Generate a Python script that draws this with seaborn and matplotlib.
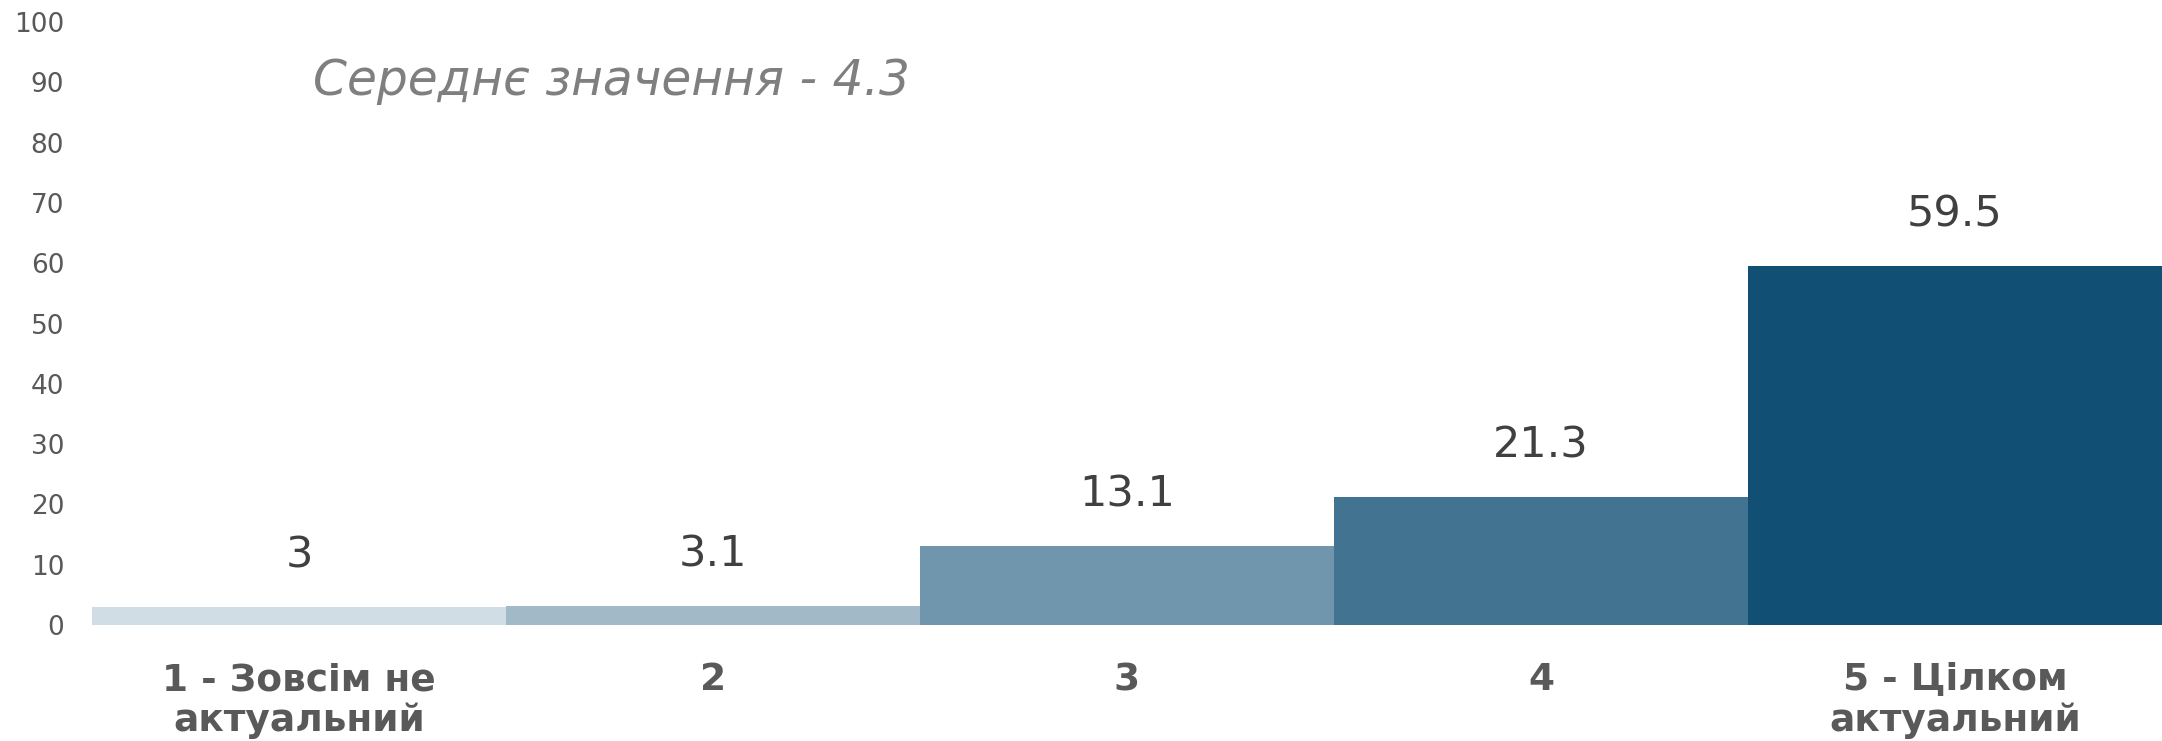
import matplotlib
matplotlib.use('Agg')
import matplotlib.pyplot as plt
import seaborn as sns
import pandas as pd

# data
categories = ['1 - Зовсім не\nактуальний', '2', '3', '4', '5 - Цілком\nактуальний']
values = [3, 3.1, 13.1, 21.3, 59.5]
bar_colors = ['#D0DDE4', '#A2B9C8', '#7096AE', '#427491', '#114F74']
mean_text = 'Середнє значення - 4.3'
y_ticks = list(range(0, 101, 10))

sns.set_style('white')
plt.rcParams['font.family'] = ['DejaVu Sans']

df = pd.DataFrame({'cat': categories, 'val': values})

fig = plt.figure(figsize=(21.62, 7.41), dpi=100)
ax = fig.add_axes([92 / 2162, 116 / 741, 2070 / 2162, 603 / 741])

sns.barplot(data=df, x='cat', y='val', hue='cat', palette=bar_colors,
            width=1.0, legend=False, saturation=1, linewidth=0, ax=ax)

ax.set_xlim(-0.5, len(categories) - 0.5)
ax.set_ylim(0, 100)
ax.set_yticks(y_ticks)
ax.set_xlabel('')
ax.set_ylabel('')
for s in ax.spines.values():
    s.set_visible(False)

ax.tick_params(axis='y', length=0, pad=20, labelsize=19, labelcolor='#595959')
ax.tick_params(axis='x', length=0, pad=27, labelsize=27, labelcolor='#595959')
for lbl in ax.get_xticklabels():
    lbl.set_fontweight('bold')
    lbl.set_linespacing(1.15)

# data labels
for i, v in enumerate(values):
    ax.annotate(f'{v:g}', (i, v), xytext=(0, 37), textcoords='offset points',
                ha='center', va='center', fontsize=31, color='#404040')

fig.text(313 / 2162, 1 - 95 / 741, mean_text, ha='left', va='baseline',
         fontsize=35, fontstyle='italic', color='#7F7F7F')

fig.savefig('out.png', dpi=100, facecolor='white')
